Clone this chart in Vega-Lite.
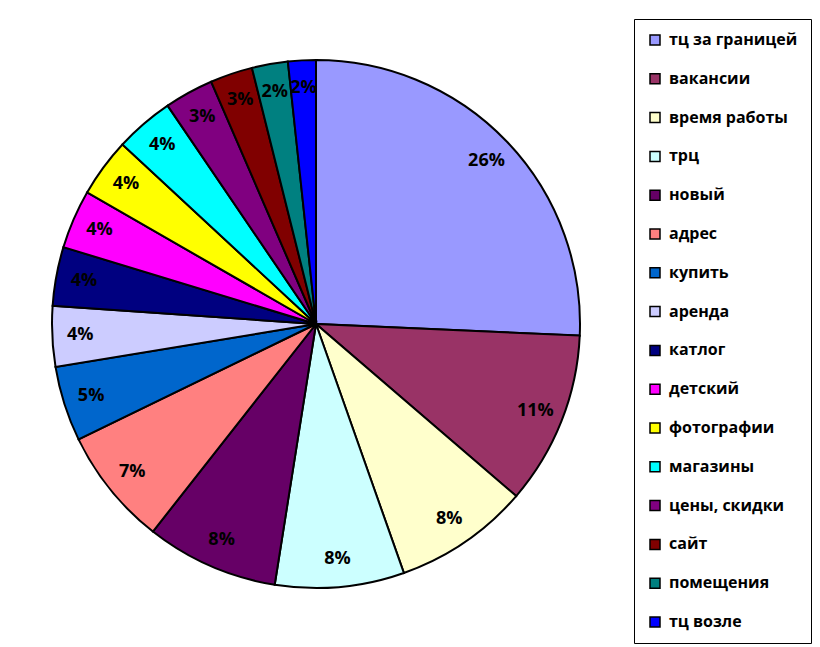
{
  "$schema": "https://vega.github.io/schema/vega-lite/v6.json",
  "width": 632,
  "height": 648,
  "autosize": "none",
  "padding": {"left": 0, "top": 0, "right": 188, "bottom": 0},
  "background": "white",
  "config": {"view": {"stroke": null}},
  "data": {"values": [
    {"i": 1, "name": "тц за границей", "value": 25.7},
    {"i": 2, "name": "вакансии", "value": 10.6},
    {"i": 3, "name": "время работы", "value": 8.3},
    {"i": 4, "name": "трц", "value": 7.9},
    {"i": 5, "name": "новый", "value": 8.1},
    {"i": 6, "name": "адрес", "value": 7.2},
    {"i": 7, "name": "купить", "value": 4.6},
    {"i": 8, "name": "аренда", "value": 3.7},
    {"i": 9, "name": "катлог", "value": 3.6},
    {"i": 10, "name": "детский", "value": 3.6},
    {"i": 11, "name": "фотографии", "value": 3.6},
    {"i": 12, "name": "магазины", "value": 3.6},
    {"i": 13, "name": "цены, скидки", "value": 3.0},
    {"i": 14, "name": "сайт", "value": 2.6},
    {"i": 15, "name": "помещения", "value": 2.2},
    {"i": 16, "name": "тц возле", "value": 1.7}
  ]},
  "transform": [
    {"joinaggregate": [{"op": "sum", "field": "value", "as": "total"}]},
    {"calculate": "datum.value / datum.total", "as": "pct"}
  ],
  "encoding": {
    "theta": {"field": "value", "type": "quantitative", "stack": true},
    "order": {"field": "i", "type": "quantitative"}
  },
  "layer": [
    {
      "mark": {"type": "arc", "outerRadius": 264, "stroke": "black", "strokeWidth": 2},
      "encoding": {
        "color": {
          "field": "name", "type": "nominal",
          "scale": {
            "domain": ["тц за границей", "вакансии", "время работы", "трц", "новый", "адрес", "купить", "аренда", "катлог", "детский", "фотографии", "магазины", "цены, скидки", "сайт", "помещения", "тц возле"],
            "range": ["#9999FF", "#993366", "#FFFFCC", "#CCFFFF", "#660066", "#FF8080", "#0066CC", "#CCCCFF", "#000080", "#FF00FF", "#FFFF00", "#00FFFF", "#800080", "#800000", "#008080", "#0000FF"]
          },
          "legend": {
            "title": null,
            "orient": "none",
            "legendX": 634,
            "legendY": 19,
            "strokeColor": "black",
            "fillColor": "white",
            "padding": 13,
            "symbolType": "square",
            "symbolSize": 100,
            "symbolStrokeColor": "black",
            "symbolStrokeWidth": 1.5,
            "labelFont": "Open Sans",
            "labelFontWeight": "bold",
            "labelFontSize": 16,
            "labelColor": "black",
            "labelOffset": 6,
            "labelLimit": 300,
            "rowPadding": 22.8
          }
        }
      }
    },
    {
      "mark": {"type": "text", "radius": 236, "font": "Open Sans", "fontWeight": "bold", "fontSize": 18, "color": "black"},
      "encoding": {
        "text": {"field": "pct", "type": "quantitative", "format": ".0%"}
      }
    }
  ]
}
